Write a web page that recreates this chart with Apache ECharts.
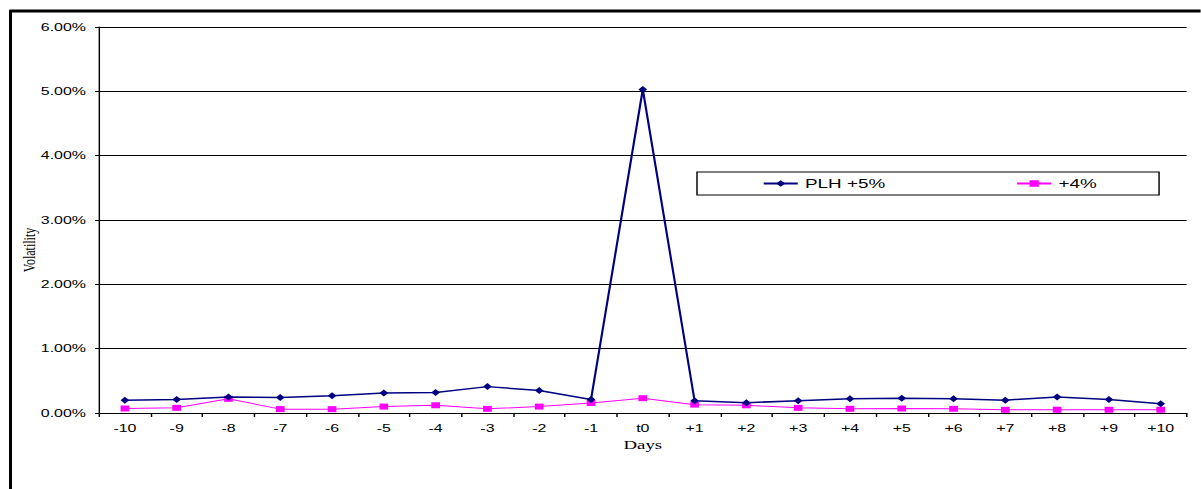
<!DOCTYPE html>
<html>
<head>
<meta charset="utf-8">
<script src="https://cdn.jsdelivr.net/npm/echarts@6/dist/echarts.min.js"></script>
<style>
html,body{margin:0;padding:0;background:#fff;overflow:hidden;width:1201px;height:489px;}
#c{width:828.3px;height:489px;transform:scaleX(1.45);transform-origin:0 0;}
</style>
</head>
<body>
<div id="c"></div>
<script>
const categories = ['-10','-9','-8','-7','-6','-5','-4','-3','-2','-1','t0','+1','+2','+3','+4','+5','+6','+7','+8','+9','+10'];
const plh5 = [0.0020,0.0021,0.0025,0.0024,0.0027,0.0031,0.0032,0.0041,0.0035,0.0021,0.0503,0.0019,0.0016,0.0019,0.0022,0.0023,0.0022,0.0020,0.0025,0.0021,0.00145];
const plus4 = [0.0007,0.0008,0.0022,0.0006,0.0006,0.0010,0.0012,0.00065,0.0010,0.00155,0.0023,0.0013,0.0012,0.0008,0.00065,0.0007,0.00065,0.0005,0.0005,0.0005,0.0005];
const yTicks = [0,0.01,0.02,0.03,0.04,0.05,0.06];

// the whole chart is drawn narrow and stretched horizontally by S, like the reference
const S = 1.45;
const chart = echarts.init(document.getElementById('c'), null, {renderer: 'svg'});
chart.setOption({
  animation: false,
  backgroundColor: '#fff',
  grid: {left: 99 / S, top: 27, right: 14 / S, bottom: 76, containLabel: false},
  legend: {
    left: 697 / S, top: 172,
    padding: [5, 43, 5, 45],
    itemGap: 90,
    itemWidth: 23.5, itemHeight: 8,
    borderColor: '#000', borderWidth: 1,
    textStyle: {fontFamily: 'Liberation Sans, Arial', fontSize: 13, color: '#000'},
    data: ['PLH +5%', '+4%']
  },
  xAxis: {
    type: 'category',
    data: categories,
    boundaryGap: true,
    name: 'Days',
    nameLocation: 'middle',
    nameGap: 16,
    nameTextStyle: {fontFamily: 'Liberation Serif, Times New Roman', fontSize: 13, color: '#000'},
    axisLine: {lineStyle: {color: '#000', width: 1}},
    axisTick: {show: true, length: 4, alignWithLabel: false, lineStyle: {color: '#000'}},
    axisLabel: {fontFamily: 'Liberation Sans, Arial', fontSize: 11, color: '#000', margin: 10, interval: 0}
  },
  yAxis: {
    type: 'value',
    min: yTicks[0], max: yTicks[yTicks.length - 1], interval: 0.01,
    axisLine: {show: true, lineStyle: {color: '#000', width: 1}},
    axisTick: {show: true, length: 4 / S, inside: false, lineStyle: {color: '#000'}},
    axisLabel: {fontFamily: 'Liberation Sans, Arial', fontSize: 11, color: '#000', margin: 13 / S,
      formatter: v => (v * 100).toFixed(2) + '%'},
    splitLine: {show: true, lineStyle: {color: '#000', width: 1}}
  },
  graphic: [
    {type: 'line', shape: {x1: 9.5 / S, y1: 11, x2: 1300, y2: 11}, style: {stroke: '#000', lineWidth: 3}, silent: true},
    {type: 'line', shape: {x1: 10.5 / S, y1: 10, x2: 10.5 / S, y2: 600}, style: {stroke: '#000', lineWidth: 3 / S}, silent: true},
    {type: 'text', x: 29 / S, y: 250, rotation: Math.PI / 2,
      style: {text: 'Volatility', fontFamily: 'Liberation Serif, Times New Roman', fontSize: 12, fill: '#000', align: 'center', verticalAlign: 'middle'}}
  ],
  series: [
    {
      name: 'PLH +5%', type: 'line', data: plh5,
      symbol: 'diamond', symbolSize: [6, 7],
      lineStyle: {color: '#000080', width: 1.5},
      itemStyle: {color: '#000080'},
      z: 3
    },
    {
      name: '+4%', type: 'line', data: plus4,
      symbol: 'rect', symbolSize: [6, 6],
      lineStyle: {color: '#FF00FF', width: 1},
      itemStyle: {color: '#FF00FF'},
      z: 2
    }
  ]
});
</script>
</body>
</html>
